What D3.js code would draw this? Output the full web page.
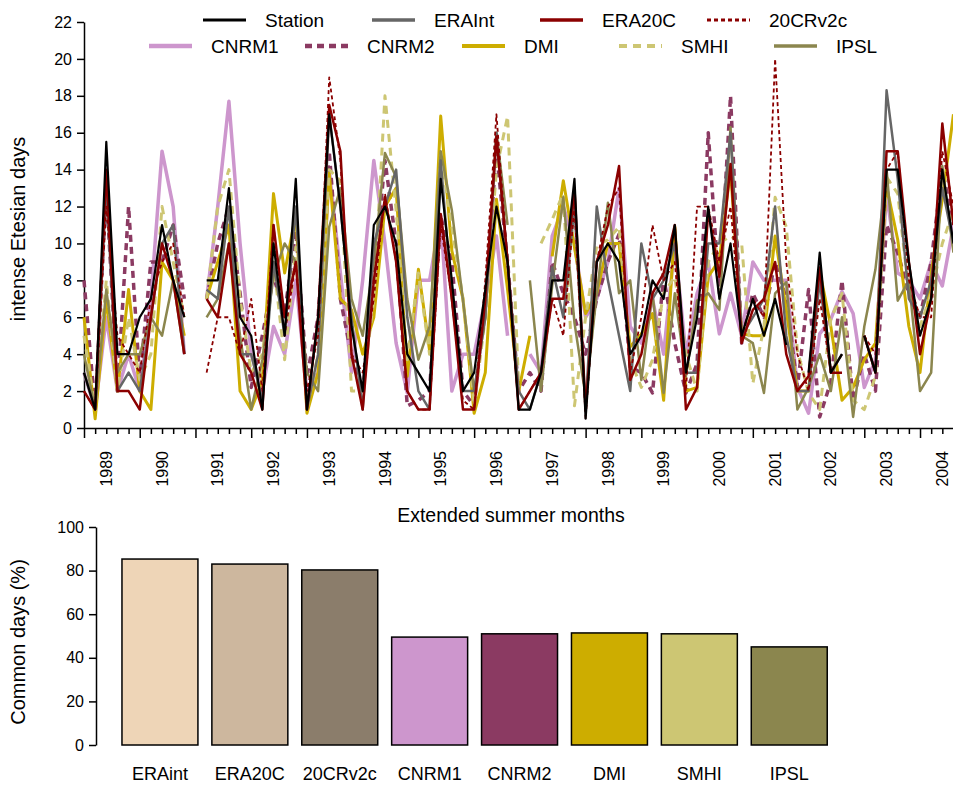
<!DOCTYPE html>
<html>
<head>
<meta charset="utf-8">
<script src="https://cdn.jsdelivr.net/npm/d3@7"></script>
<style>
  body { margin: 0; background: #fff; }
  svg { display: block; font-family: "Liberation Sans", Arial, sans-serif; }
</style>
</head>
<body>
<svg id="chart" width="953" height="785"></svg>
<script>
// years on the x axis, 5 extended summer months each
const years = d3.range(1989, 2005);
const monthsPerYear = 5;

// monthly intense Etesian days (null = missing)
const station = [3,1,15.5,4,4, 6,7,11,8,6, null,8,8,13,6, 5,1,10,5,13.5, 1,6,17,12,5.5, 2,11,12,10,4,
  3,2,13.5,8,2, 3,7.5,12,9,1, 1,3,8,8,13.5, 0.5,9,10,9,4, 5,8,7,11,3, 6,12,7,10,5,
  7,5,7,4.5,null, 3,9.5,3,4,null, 5,3,14,14,9, 5,7,14,10];
const eraInt = [3,1,13,2,3, 2,6,10,11,4, null,7.5,7,12,4, 4,1.5,9,5,12, 1,4,17,12,6, 1,10,12,14,6,
  2,1,14.5,7,2, 2,6,16,9,2, 1,3,8.7,6,12, 1,12,8,5,2, 10,7,8,10,3, 3,10,10,16,5,
  6,7,12,5,2, 2,8,3,4,null, 5,3,18.3,13.5,7, 6,8,13,10];
const era20C = [2,1,14,2,2, 1,6,10,8,4, null,7,6,10,4, 3,1,11,6,9, 1,6,17.5,15,4, 1,8,12.5,9,2,
  1,1,11.6,7,1, 1,7,15.8,9,1, 2,3,7,7,13, 1,9,11,14.2,2.6, 4,7.3,8.4,11,1, 2.2,11.8,8.2,14.3,4.6,
  6.4,7,9,4,2, 2.8,8.7,3,3,null, 5,3,15,15,9, 4,7,16.5,11];
const cr20 = [2,1,12,5,4, 3,7,9,10,6, null,3,6,6,4, 7,2,11,5,9, 2,5,19,14.5,4, 3,7,12.7,9,2,
  1,1,11,7,1.5, 1,8,17,9,1, 2,3,7,5,12, 0.5,9,12,13,3, 6,11,8,9,2, 12,12,9,12,5,
  7,6,20,9,4, 2,7,3,4,null, 5,4,14,15,8, 6,6,15,12];
const cnrm1 = [3,1,6,2,4, 2,7,15,12,4, null,7,12,17.7,10, 4,2,5.5,4,8, 2,3,14,8.4,3, 8,14.5,10,4.6,1.9,
  8,8,11.5,2,4, 4,7,10.4,5,null, 4,3,10.4,12,10, 6,7,9,13,5.5, 4.6,7,4,10,4, 7.3,9,5.1,7.3,5,
  9,8,8,8,2.2, 0.8,5.1,5.9,7.4,6.2, 2.2,3.7,12.7,8.4,8, 7,9,7.7,11];
const cnrm2 = [8,1,13,2,12, 2.6,9,9,11,7, null,7,10,12,7.3, 2.2,5,8.2,6.2,10.7, 2.8,6,15,7,3.9, 2,8,14.5,10,1.2,
  1.5,2,11.5,9,2, 1.2,7,15,9,2, 3,2,9,7.3,6, 4,7,9,10.5,3.3, 3,1.9,8.2,4.6,1.9, 3.5,16,7.3,18,4.6,
  7.3,6,9,7,2.2, 7.5,0.6,2.5,8,1.5, 4,2,11,9.5,7.3, 6,9,14,11];
const dmi = [6,0.5,7,2,7.5, 2,1,9,8,5, null,7,9,11,2, 1,2.6,12.7,8.4,11.6, 0.8,3,13.8,7,6.4, 4,6,12,13,2.8,
  8.6,4.2,16.9,9.6,7, 0.8,3,12.4,7.5,2, 5,null,9.3,13.4,9.8, 6.2,7.3,10,10,4.4, 5.1,6.2,1.5,10.9,2, 2.2,8.2,9.1,14,5.1,
  5,5,10.4,6.4,2, 2,8.5,5.5,1.5,2.2, 3.7,4.6,13.1,10.2,5.5, 3,8.4,12.4,17];
const smhi = [5,1,8,2,6, 2.6,4,12,9,6, null,7,12,14,7, 3,4,9,3.7,9.8, 1,4,14,13.4,2, 2,7,18,11.8,3.7,
  8.4,4,14.9,10.9,7, 1.2,6,14,16.9,2.2, null,10,11.3,12.7,1.2, 6,9.9,10.2,10.9,3.7, 2.2,3.7,7.3,8.2,4, 2,9,10,10.4,10,
  2.4,5.5,12.5,10.9,4.2, 1.9,1,5.9,7.3,1.5, 1,2.8,13.6,12.7,7.3, 5.5,7.3,10,11.8];
const ipsl = [4,1,7.5,3,4, 4,6,5,8,4, null,6,7,10,5, 1,3.7,8.2,10,9, 3,2,10.9,13,7, 5,9,14.9,13.6,7,
  3.7,5.5,15,11.8,6.9, 2,6,16,11,null, 8,2,7.7,12.5,5.7, 1.7,7.3,12.2,7.3,8, 2.6,7.3,1.9,7.3,2.8, 6.9,7.3,6.4,16.3,5,
  4.6,1.9,7.3,7.9,1, 2.2,4,2,6,0.6, 5.5,8.6,14,6.9,8, 2,3,14.2,9.5];

// share of days in common with the station (%)
const barNames = ["ERAint", "ERA20C", "20CRv2c", "CNRM1", "CNRM2", "DMI", "SMHI", "IPSL"];
const barValues = [85.3, 83, 80.3, 49.5, 51, 51.4, 51, 45];
const barColors = ["#EED5B7", "#CDB79E", "#8B7D6B", "#CD96CD", "#8B3A62", "#CDAD00", "#CDC673", "#8B864E"];

// line series, in drawing order (station last so it sits on top)
const series = [
  { name: "CNRM1",   values: cnrm1,   color: "#CD96CD", width: 3.5, dash: null },
  { name: "CNRM2",   values: cnrm2,   color: "#8B3A62", width: 3.5, dash: "7,5" },
  { name: "DMI",     values: dmi,     color: "#CDAD00", width: 3,   dash: null },
  { name: "SMHI",    values: smhi,    color: "#CDC673", width: 3,   dash: "8,6" },
  { name: "IPSL",    values: ipsl,    color: "#8B864E", width: 2.5, dash: null },
  { name: "ERAInt",  values: eraInt,  color: "#666666", width: 2.5, dash: null },
  { name: "ERA20C",  values: era20C,  color: "#8B0000", width: 2.5, dash: null },
  { name: "20CRv2c", values: cr20,    color: "#8B0000", width: 1.8, dash: "4,3" },
  { name: "Station", values: station, color: "#000000", width: 2.2, dash: null }
];

const legendRows = [
  ["Station", "ERAInt", "ERA20C", "20CRv2c"],
  ["CNRM1", "CNRM2", "DMI", "SMHI", "IPSL"]
];

const svg = d3.select("#chart");
const nMonths = years.length * monthsPerYear;

//////////// TOP: time series ////////////
const x = d3.scaleLinear().domain([0, nMonths - 1]).range([84, 84 + (nMonths - 1) * 11.147]);
const y = d3.scaleLinear().domain([0, 22]).range([428, 22]);

const yAxis = svg.append("g")
    .attr("transform", "translate(84,0)")
    .call(d3.axisLeft(y).tickValues(d3.range(0, 23, 2)).tickSize(7).tickSizeOuter(0).tickPadding(5));
yAxis.selectAll("text").style("font-size", "16px");

const xAxis = svg.append("g")
    .attr("transform", "translate(0,428)")
    .call(d3.axisBottom(x).tickValues(d3.range(0, nMonths)).tickSize(6).tickSizeOuter(0).tickFormat(""));
xAxis.selectAll(".tick line")
    .attr("y2", d => d % monthsPerYear === 0 ? 10 : 6);

svg.selectAll("g .domain, g .tick line").attr("stroke", "#000").attr("stroke-width", 1.5);

// year labels, rotated, on the middle month
svg.append("g").selectAll("text")
  .data(years)
  .enter().append("text")
    .attr("transform", (d, i) => `translate(${x(i * monthsPerYear + 2)},451) rotate(-90)`)
    .attr("text-anchor", "end")
    .attr("dy", "0.35em")
    .style("font-size", "16px")
    .text(d => d);

svg.append("text")
    .attr("x", 511).attr("y", 522)
    .attr("text-anchor", "middle")
    .style("font-size", "19.5px")
    .text("Extended summer months");

svg.append("text")
    .attr("transform", "translate(25,229) rotate(-90)")
    .attr("text-anchor", "middle")
    .style("font-size", "20px")
    .text("intense Etesian days");

const line = d3.line()
    .defined(d => d != null)
    .x((d, i) => x(i))
    .y(d => y(d));

svg.append("g").selectAll("path")
  .data(series)
  .enter().append("path")
    .attr("d", d => line(d.values))
    .attr("fill", "none")
    .attr("stroke", d => d.color)
    .attr("stroke-width", d => d.width)
    .attr("stroke-dasharray", d => d.dash)
    .attr("stroke-linejoin", "round")
    .attr("stroke-linecap", "butt");

// legend
const legendX = {
  "Station": 203, "ERAInt": 372, "ERA20C": 540, "20CRv2c": 707,
  "CNRM1": 149, "CNRM2": 305, "DMI": 462, "SMHI": 619, "IPSL": 774
};
const legend = svg.append("g");
legendRows.forEach((row, r) => {
  const ly = 20 + r * 26;
  row.forEach(name => {
    const s = series.find(d => d.name === name);
    const lx = legendX[name];
    legend.append("line")
        .attr("x1", lx).attr("x2", lx + 43)
        .attr("y1", ly).attr("y2", ly)
        .attr("stroke", s.color)
        .attr("stroke-width", s.width + 1)
        .attr("stroke-dasharray", s.dash);
    legend.append("text")
        .attr("x", lx + 62).attr("y", ly)
        .attr("dy", "0.35em")
        .style("font-size", "19px")
        .text(name);
  });
});

//////////// BOTTOM: bar chart ////////////
const xb = d3.scaleBand().domain(barNames).range([115, 115 + 8 * 89.9])
    .paddingInner(0.155).paddingOuter(0.0775);
const yb = d3.scaleLinear().domain([0, 100]).range([745, 527]);

const ybAxis = svg.append("g")
    .attr("transform", "translate(96,0)")
    .call(d3.axisLeft(yb).tickValues(d3.range(0, 101, 20)).tickSize(7).tickSizeOuter(0).tickPadding(5));
ybAxis.selectAll("text").style("font-size", "16px");
ybAxis.selectAll(".domain, .tick line").attr("stroke", "#000").attr("stroke-width", 1.5);

svg.append("g").selectAll("rect")
  .data(barNames)
  .enter().append("rect")
    .attr("x", d => xb(d))
    .attr("width", xb.bandwidth())
    .attr("y", (d, i) => yb(barValues[i]))
    .attr("height", (d, i) => yb(0) - yb(barValues[i]))
    .attr("fill", (d, i) => barColors[i])
    .attr("stroke", "#000")
    .attr("stroke-width", 1.5);

svg.append("g").selectAll("text")
  .data(barNames)
  .enter().append("text")
    .attr("x", d => xb(d) + xb.bandwidth() / 2)
    .attr("y", 774)
    .attr("dy", "0.35em")
    .attr("text-anchor", "middle")
    .style("font-size", "18px")
    .text(d => d);

svg.append("text")
    .attr("transform", "translate(25,642) rotate(-90)")
    .attr("text-anchor", "middle")
    .style("font-size", "20px")
    .text("Common days (%)");
</script>
</body>
</html>
